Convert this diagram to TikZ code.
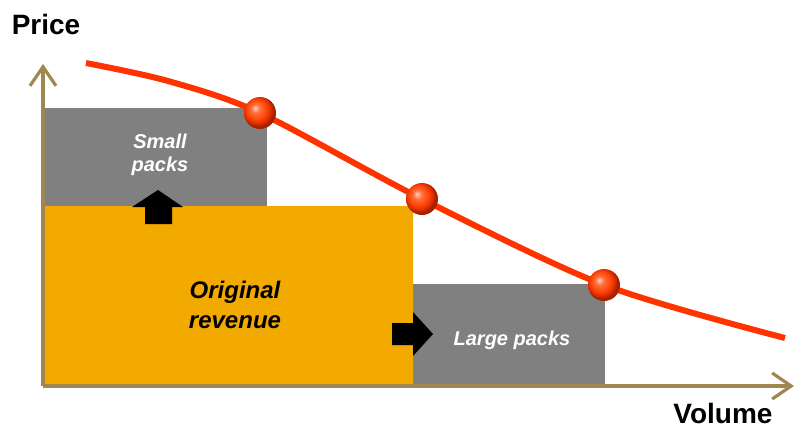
\documentclass[tikz,border=0pt]{standalone}
\usepackage{fontspec}
\setmainfont{Liberation Sans}
\usepackage{xcolor}
\usetikzlibrary{arrows.meta}
\definecolor{pvAxis}{HTML}{A08650}
\definecolor{pvGrey}{HTML}{808080}
\definecolor{pvOrange}{HTML}{F2A900}
\definecolor{pvRed}{HTML}{FF3300}
\definecolor{pvBall}{HTML}{FF4A0A}
\pgfdeclareradialshading{pvball}{\pgfpoint{-8bp}{8bp}}{color(0bp)=(pvBall!25!white);
  color(7bp)=(pvBall!80!white); color(15bp)=(pvBall); color(21bp)=(pvRed!88!black);
  color(25bp)=(pvRed!65!black); color(50bp)=(pvRed!65!black)}
\tikzset{
  pv diagram/.style={x=1pt, y=-1pt, line join=round},
  pv axis/.style={-{Straight Barb[length=19pt,width=26pt]}, draw=pvAxis, line width=3.2pt},
  pv pack/.style={fill=pvGrey},
  pv revenue/.style={fill=pvOrange},
  pv curve/.style={draw=pvRed, line width=6pt},
  pv dot/.style={circle, minimum size=32pt, inner sep=0pt, shading=pvball},
  pv shift/.style={fill=black},
  pv title/.style={font=\bfseries\fontsize{28}{32}\selectfont, text=black},
  pv label/.style={font=\bfseries\itshape\fontsize{20}{23}\selectfont, text=white, align=center},
  pv key label/.style={pv label, font=\bfseries\itshape\fontsize{24}{30}\selectfont, text=black}
}

\begin{document}
\begin{tikzpicture}[pv diagram]
\useasboundingbox (0,0) rectangle (796,429);
\coordinate (origin) at (43,386);
\coordinate (ytop) at (43,64);
\coordinate (xend) at (794,386);
\coordinate (start) at (86,63);
\coordinate (bend) at (168,81);
\coordinate (p1) at (260,113);
\coordinate (p2) at (422,199);
\coordinate (p3) at (604,285);
\coordinate (end) at (785,338);
\fill[pv pack] (44.5,108) rectangle (267,206);
\fill[pv pack] (413,284) rectangle (605,385);
\fill[pv revenue] (44.5,385) -- (44.5,206) [rounded corners=5pt] -- (413,206) [sharp corners] -- (413,385) -- cycle;
\draw[pv axis] (origin) -- (ytop);
\draw[pv axis] (origin) -- (xend);
\draw[pv curve] plot[smooth, tension=0.5] coordinates {(start) (bend) (p1) (p2) (p3) (end)};
\node[pv dot] (dot1) at (p1) {};
\node[pv dot] (dot2) at (p2) {};
\node[pv dot] (dot3) at (p3) {};
\fill[pv shift] (158,190) -- (183,207) -- (172,207) -- (172,224) -- (145,224) -- (145,207) -- (132,207) -- cycle;
\fill[pv shift] (433,334) -- (413,356) -- (413,345) -- (392,345) -- (392,323) -- (413,323) -- (413,312) -- cycle;
\node[pv title] (price) at (46,24) {Price};
\node[pv title] (volume) at (723,413) {Volume};
\node[pv label] (small) at (160,155) {Small\\packs};
\node[pv key label] (original) at (235,305) {Original\\revenue};
\node[pv label] (large) at (512,340) {Large packs};
\end{tikzpicture}
\end{document}
